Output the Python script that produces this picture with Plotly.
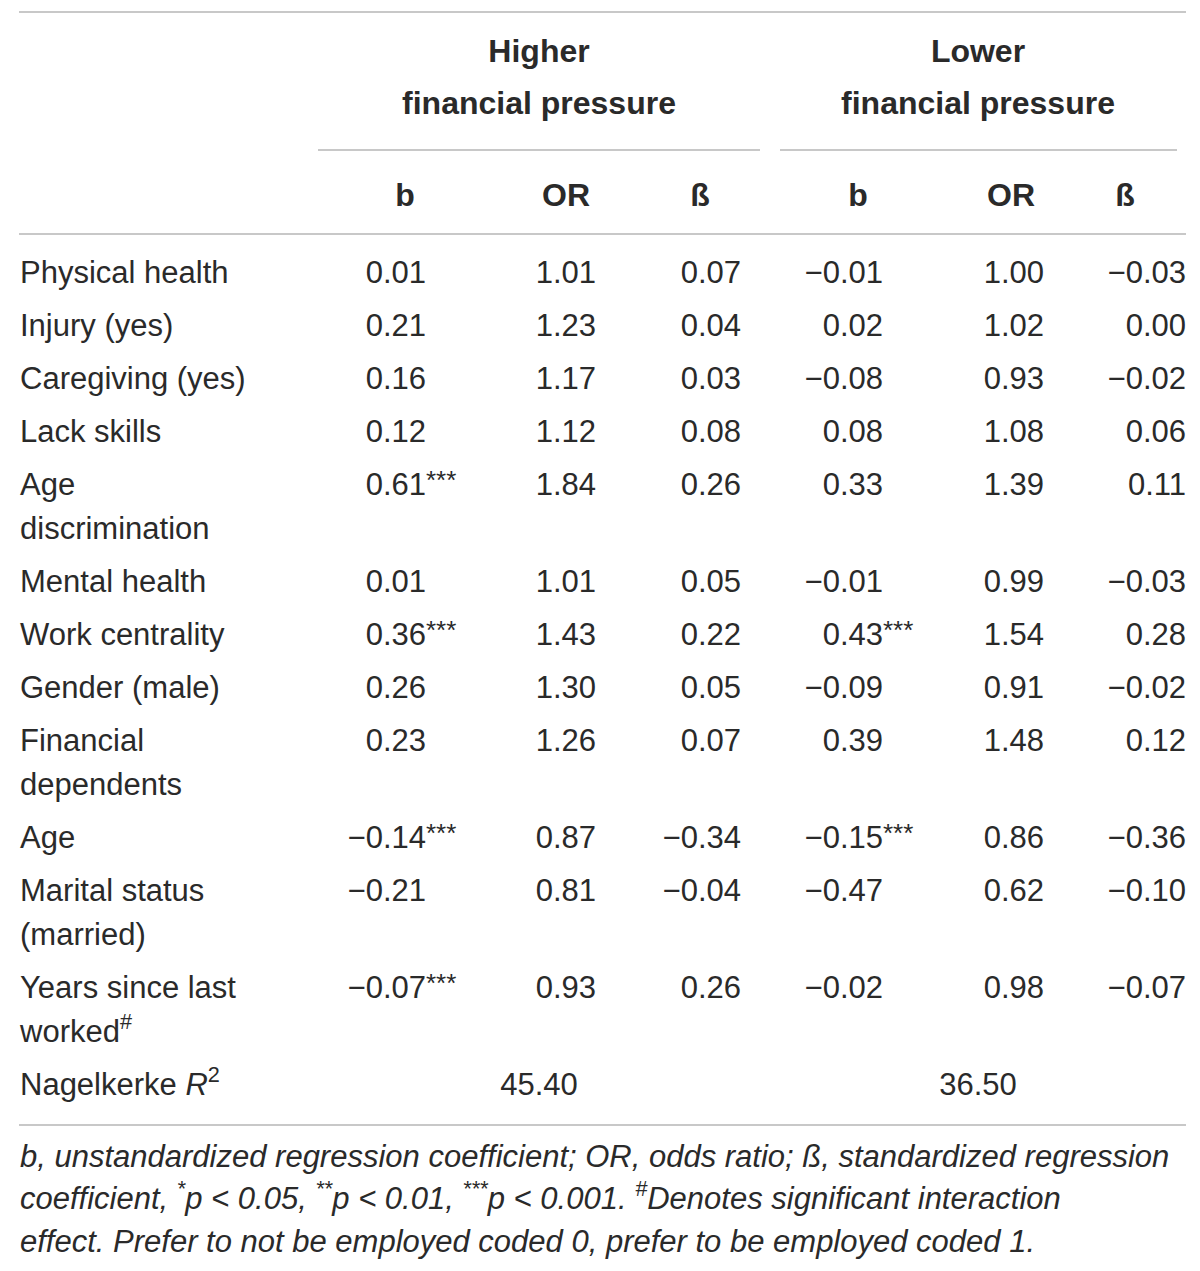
import plotly.graph_objects as go

# row labels (wrapped lines as in the original table)
labels = [
    ["Physical health"],
    ["Injury (yes)"],
    ["Caregiving (yes)"],
    ["Lack skills"],
    ["Age", "discrimination"],
    ["Mental health"],
    ["Work centrality"],
    ["Gender (male)"],
    ["Financial", "dependents"],
    ["Age"],
    ["Marital status", "(married)"],
    ["Years since last", "worked<sup>#</sup>"],
]

# higher financial pressure
hi_b = [0.01, 0.21, 0.16, 0.12, 0.61, 0.01, 0.36, 0.26, 0.23, -0.14, -0.21, -0.07]
hi_b_sig = ["", "", "", "", "***", "", "***", "", "", "***", "", "***"]
hi_or = [1.01, 1.23, 1.17, 1.12, 1.84, 1.01, 1.43, 1.30, 1.26, 0.87, 0.81, 0.93]
hi_beta = [0.07, 0.04, 0.03, 0.08, 0.26, 0.05, 0.22, 0.05, 0.07, -0.34, -0.04, 0.26]

# lower financial pressure
lo_b = [-0.01, 0.02, -0.08, 0.08, 0.33, -0.01, 0.43, -0.09, 0.39, -0.15, -0.47, -0.02]
lo_b_sig = ["", "", "", "", "", "", "***", "", "", "***", "", ""]
lo_or = [1.00, 1.02, 0.93, 1.08, 1.39, 0.99, 1.54, 0.91, 1.48, 0.86, 0.62, 0.98]
lo_beta = [-0.03, 0.00, -0.02, 0.06, 0.11, -0.03, 0.28, -0.02, 0.12, -0.36, -0.10, -0.07]

groups = ["Higher", "Lower"]
sub_headers = ["b", "OR", "ß", "b", "OR", "ß"]
nagelkerke = [45.40, 36.50]

footnote = [
    "b, unstandardized regression coefficient; OR, odds ratio; ß, standardized regression",
    "coefficient, <sup>*</sup>p &lt; 0.05, <sup>**</sup>p &lt; 0.01, <sup>***</sup>p &lt; 0.001. "
    "<sup>#</sup>Denotes significant interaction",
    "effect. Prefer to not be employed coded 0, prefer to be employed coded 1.",
]

FONT = "Liberation Sans, Arial, sans-serif"
INK = "#2a2a2a"
RULE = "#c8c8c8"
FS = 31

# the page body has an 8px margin, so shift the coordinate frame to match
OFF = 8
W, H = 1200 - 2 * OFF, 1271 - 2 * OFF
DY = 3  # text baseline nudge


def fmt(v):
    return f"{v:.2f}".replace("-", "\u2212")


# row positions (first line of each row), wrapped rows take an extra 44px
row_y = []
y = 272
for lab in labels:
    row_y.append(y)
    y += 53 + 44 * (len(lab) - 1)
nag_y = y

fig = go.Figure()


def text_trace(xs, ys, texts, pos, size=FS, bold=False, color=INK):
    keep = [(a, b + DY, t) for a, b, t in zip(xs, ys, texts) if t]
    fig.add_trace(go.Scatter(
        x=[k[0] for k in keep], y=[k[1] for k in keep], text=[k[2] for k in keep],
        mode="text", textposition=pos,
        textfont=dict(family=FONT, size=size, color=color,
                      weight="bold" if bold else "normal"),
        hoverinfo="skip", showlegend=False, cliponaxis=False))


# labels
lx, ly, lt = [], [], []
for yy, lab in zip(row_y, labels):
    for k, line in enumerate(lab):
        lx.append(20)
        ly.append(yy + 44 * k)
        lt.append(line)
lx.append(20)
ly.append(nag_y)
lt.append("Nagelkerke <i>R</i><sup>2</sup>")
text_trace(lx, ly, lt, "middle right")

# numeric columns, right aligned at the decimal end
cols = [(hi_b, 426), (hi_or, 596), (hi_beta, 741), (lo_b, 883), (lo_or, 1044), (lo_beta, 1186)]
for vals, xr in cols:
    text_trace([xr] * len(vals), row_y, [fmt(v) for v in vals], "middle left")

# significance stars
for sig, xr in [(hi_b_sig, 426), (lo_b_sig, 883)]:
    text_trace([xr] * len(sig), [r - 5 for r in row_y], sig, "middle right", size=26)

# headers
gx = [539, 978]
text_trace(gx, [51, 51], groups, "middle center", size=32, bold=True)
text_trace(gx, [103, 103], ["financial pressure"] * 2, "middle center", size=32, bold=True)
text_trace([405, 566, 700, 858, 1011, 1125], [195] * 6, sub_headers, "middle center",
           size=32, bold=True)

# Nagelkerke values
text_trace(gx, [nag_y] * 2, [f"{v:.2f}" for v in nagelkerke], "middle center")

# footnote
text_trace([20] * 3, [1156, 1198, 1241], [f"<i>{t}</i>" for t in footnote], "middle right")

# rules
for x0, x1, yy in [(19, 1186, 12), (318, 760, 150), (780, 1177, 150),
                   (19, 1186, 234), (19, 1186, 1125)]:
    fig.add_shape(type="line", x0=x0, x1=x1, y0=yy, y1=yy,
                  line=dict(color=RULE, width=2), layer="below")

fig.update_xaxes(range=[OFF, OFF + W], visible=False, fixedrange=True)
fig.update_yaxes(range=[OFF + H, OFF], visible=False, fixedrange=True)
fig.update_layout(width=W, height=H, margin=dict(l=0, r=0, t=0, b=0),
                  paper_bgcolor="white", plot_bgcolor="white")

fig.write_html("out.html")
